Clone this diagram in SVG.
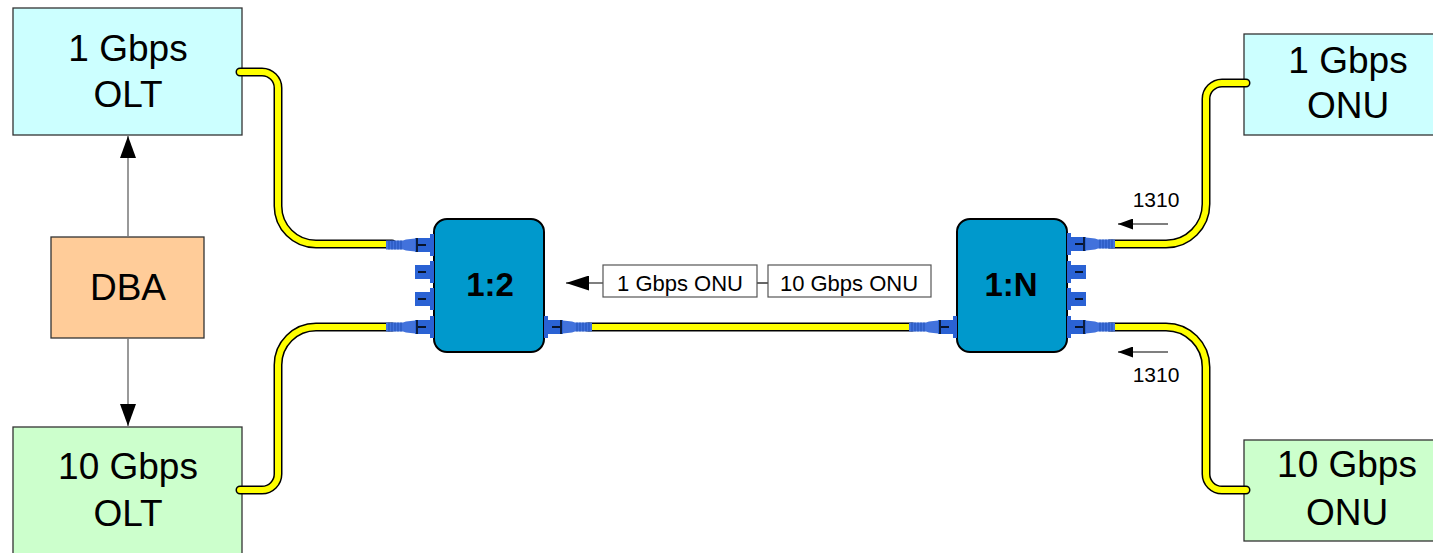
<svg xmlns="http://www.w3.org/2000/svg" xmlns:xlink="http://www.w3.org/1999/xlink" width="1433" height="553" viewBox="0 0 1433 553">
<style>
.box{stroke:#333;stroke-width:1.3}
.g1{fill:#ccffff}
.g10{fill:#ccffcc}
.dba{fill:#ffcc99}
.spl{fill:#0099cc;stroke:#000;stroke-width:2}
.big{font-family:"Liberation Sans",Arial,sans-serif;font-size:37px;fill:#000;text-anchor:middle}
.spt{font-family:"Liberation Sans",Arial,sans-serif;font-size:33px;font-weight:bold;fill:#000;text-anchor:middle}
.sm{font-family:"Liberation Sans",Arial,sans-serif;font-size:21px;fill:#000;text-anchor:middle}
.lt{font-family:"Liberation Sans",Arial,sans-serif;font-size:22px;fill:#000;text-anchor:middle}
.fo{fill:none;stroke:#000;stroke-width:9;stroke-linecap:round;stroke-linejoin:round}
.fi{fill:none;stroke:#ffff00;stroke-width:6;stroke-linecap:round;stroke-linejoin:round}
.ga{stroke:#777;stroke-width:1.5;fill:none}
.ka{stroke:#000;stroke-width:1.2;fill:none}
.lbl{fill:#fff;stroke:#555;stroke-width:1.2}
</style>
<defs>
<marker id="ahBig" markerWidth="22" markerHeight="16" refX="22" refY="8" orient="auto" markerUnits="userSpaceOnUse"><path d="M0,0 L22,8 L0,16 z" fill="#000"/></marker>
<marker id="ahMid" markerWidth="23" markerHeight="15" refX="23" refY="7.5" orient="auto" markerUnits="userSpaceOnUse"><path d="M0,0 L23,7.5 L0,15 z" fill="#000"/></marker>
<marker id="ahSm" markerWidth="15" markerHeight="11" refX="15" refY="5.5" orient="auto" markerUnits="userSpaceOnUse"><path d="M0,0 L15,5.5 L0,11 z" fill="#000"/></marker>
<g id="portL">
<rect x="-4" y="-11" width="4" height="22" fill="#2a62d4"/>
<rect x="-19" y="-7" width="16" height="14" fill="#2a62d4"/>
<line x1="-16" y1="0" x2="-8" y2="0" stroke="#000" stroke-width="1.6"/>
</g>
<g id="plugL">
<path d="M-19,-6.5 L-28,-5.5 L-31,-4.5 L-48,-4.5 L-48,4.5 L-31,4.5 L-28,5.5 L-19,6.5 z" fill="#4272dc"/>
<g stroke="#1f4fb5" stroke-width="1">
<line x1="-33" y1="-4.5" x2="-33" y2="4.5"/>
<line x1="-36" y1="-4.5" x2="-36" y2="4.5"/>
<line x1="-39" y1="-4.5" x2="-39" y2="4.5"/>
<line x1="-42" y1="-4.5" x2="-42" y2="4.5"/>
<line x1="-45" y1="-4.5" x2="-45" y2="4.5"/>
</g>
<line x1="-17" y1="-7" x2="-17" y2="7" stroke="#000" stroke-width="1.4"/>
</g>
</defs>
<rect width="1433" height="553" fill="#fff"/>

<g id="olt1g">
<rect class="box g1" x="13" y="8" width="229" height="127"/>
<text class="big" x="128" y="61">1 Gbps</text>
<text class="big" x="128" y="107">OLT</text>
</g>
<g id="dba">
<rect class="box dba" x="51" y="237" width="153" height="101"/>
<text class="big" x="128" y="300">DBA</text>
</g>
<g id="olt10g">
<rect class="box g10" x="13" y="427" width="229" height="140"/>
<text class="big" x="128" y="479">10 Gbps</text>
<text class="big" x="128" y="526">OLT</text>
</g>
<g id="onu1g">
<rect class="box g1" x="1244" y="34" width="229" height="101"/>
<text class="big" x="1348" y="73">1 Gbps</text>
<text class="big" x="1348" y="118">ONU</text>
</g>
<g id="onu10g">
<rect class="box g10" x="1244" y="440" width="229" height="101"/>
<text class="big" x="1347" y="477">10 Gbps</text>
<text class="big" x="1347" y="525">ONU</text>
</g>

<g id="connectors">
<path class="fo" d="M240,72 H262 A16,16 0 0 1 278,88 V206 A38,38 0 0 0 316,244 H392"/>
<path class="fi" d="M240,72 H262 A16,16 0 0 1 278,88 V206 A38,38 0 0 0 316,244 H392"/>
<path class="fo" d="M240,490 H262 A16,16 0 0 0 278,474 V365 A38,38 0 0 1 316,327 H392"/>
<path class="fi" d="M240,490 H262 A16,16 0 0 0 278,474 V365 A38,38 0 0 1 316,327 H392"/>
<path class="fo" d="M588,327 H912"/>
<path class="fi" d="M588,327 H912"/>
<path class="fo" d="M1110,244 H1166 A40,40 0 0 0 1206,204 V99 A16,16 0 0 1 1222,83 H1246"/>
<path class="fi" d="M1110,244 H1166 A40,40 0 0 0 1206,204 V99 A16,16 0 0 1 1222,83 H1246"/>
<path class="fo" d="M1110,327 H1166 A40,40 0 0 1 1206,367 V474 A16,16 0 0 0 1222,490 H1246"/>
<path class="fi" d="M1110,327 H1166 A40,40 0 0 1 1206,367 V474 A16,16 0 0 0 1222,490 H1246"/>
<line class="ga" x1="128" y1="237" x2="128" y2="136" marker-end="url(#ahBig)"/>
<line class="ga" x1="128" y1="338" x2="128" y2="426" marker-end="url(#ahBig)"/>
<line class="ka" x1="1168" y1="224" x2="1118" y2="224" marker-end="url(#ahSm)"/>
<line class="ka" x1="1168" y1="352" x2="1118" y2="352" marker-end="url(#ahSm)"/>
<line class="ka" x1="603" y1="283" x2="566" y2="283" marker-end="url(#ahMid)"/>
<line class="ka" x1="757" y1="283" x2="768" y2="283"/>
</g>

<g id="splitter12">
<rect class="spl" x="434" y="219" width="110" height="133" rx="13"/>
<text class="spt" x="490" y="296">1:2</text>
<use xlink:href="#portL" transform="translate(434,245)"/>
<use xlink:href="#portL" transform="translate(434,272)"/>
<use xlink:href="#portL" transform="translate(434,299)"/>
<use xlink:href="#portL" transform="translate(434,327)"/>
<use xlink:href="#plugL" transform="translate(434,245)"/>
<use xlink:href="#plugL" transform="translate(434,327)"/>
<use xlink:href="#portL" transform="translate(544,327) scale(-1,1)"/>
<use xlink:href="#plugL" transform="translate(544,327) scale(-1,1)"/>
</g>

<g id="splitter1N">
<rect class="spl" x="957" y="219" width="110" height="133" rx="13"/>
<text class="spt" x="1011" y="296">1:N</text>
<use xlink:href="#portL" transform="translate(957,327)"/>
<use xlink:href="#plugL" transform="translate(957,327)"/>
<use xlink:href="#portL" transform="translate(1067,244) scale(-1,1)"/>
<use xlink:href="#portL" transform="translate(1067,272) scale(-1,1)"/>
<use xlink:href="#portL" transform="translate(1067,299) scale(-1,1)"/>
<use xlink:href="#portL" transform="translate(1067,327) scale(-1,1)"/>
<use xlink:href="#plugL" transform="translate(1067,244) scale(-1,1)"/>
<use xlink:href="#plugL" transform="translate(1067,327) scale(-1,1)"/>
</g>

<g id="label1g">
<rect class="lbl" x="603" y="265" width="154" height="32"/>
<text class="lt" x="680" y="291">1 Gbps ONU</text>
</g>
<g id="label10g">
<rect class="lbl" x="768" y="265" width="163" height="32"/>
<text class="lt" x="849" y="291">10 Gbps ONU</text>
</g>
<g id="wl-up">
<text class="sm" x="1156" y="207">1310</text>
</g>
<g id="wl-down">
<text class="sm" x="1156" y="382">1310</text>
</g>
</svg>
